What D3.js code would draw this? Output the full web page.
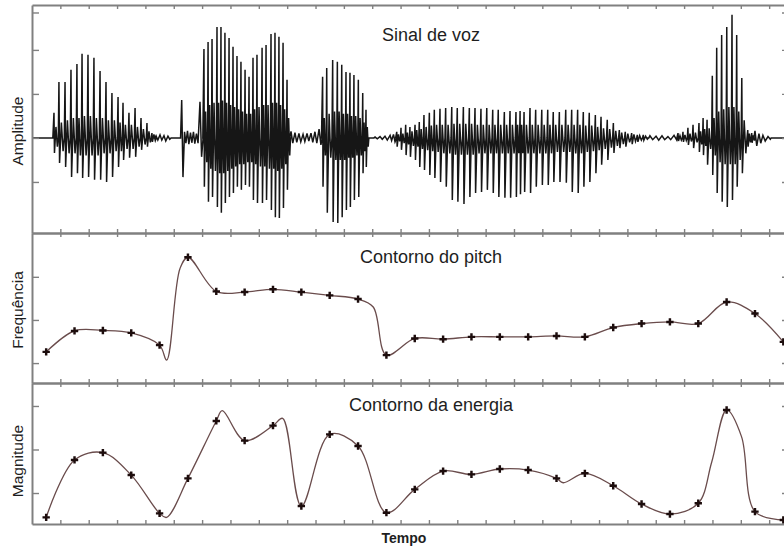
<!DOCTYPE html>
<html>
<head>
<meta charset="utf-8">
<script src="https://cdn.jsdelivr.net/npm/d3@7"></script>
<style>
  html, body { margin: 0; padding: 0; background: #fff; }
  svg { display: block; font-family: "Liberation Sans", Arial, sans-serif; }
</style>
</head>
<body>
<svg id="chart" width="784" height="548"></svg>
<script>
// ---------- data ----------
// time in ms; analysis frames every 20 ms
const frameTimes = [10, 30, 50, 70, 90, 110, 130, 150, 170, 190, 210, 230, 250, 270,
  290, 310, 330, 350, 370, 390, 410, 430, 450, 470, 490, 510, 530];
const timeTicks = [20, 40, 60, 80, 100, 120, 140, 160, 180, 200, 220, 240, 260, 280,
  300, 320, 340, 360, 380, 400, 420, 440, 460, 480, 500, 520];

// pitch contour (Hz), one value per frame
const pitchHz = [113.0, 137.3, 137.8, 135.0, 120.8, 222.7, 183.1, 182.3, 185.5, 182.3,
  178.5, 174.2, 109.2, 128.5, 127.7, 130.4, 130.4, 130.4, 131.5, 130.4, 141.2, 145.8,
  147.7, 145.8, 170.8, 157.4, 124.6];
// intermediate contour samples between frames [ms, Hz]
const pitchBetween = [[95.0, 103.5], [104.4, 209.7], [240.7, 165.0]];
const pitchTicks = [100, 150, 200];

// energy contour (normalised magnitude), one value per frame
const energyMag = [0.110, 0.440, 0.482, 0.353, 0.133, 0.334, 0.664, 0.551, 0.637, 0.175,
  0.587, 0.520, 0.137, 0.271, 0.376, 0.357, 0.388, 0.382, 0.334, 0.363, 0.292, 0.187,
  0.129, 0.191, 0.727, 0.143, 0.095];
const energyBetween = [[95.0, 0.110], [134.2, 0.723], [176.8, 0.679], [374.7, 0.309],
  [479.5, 0.428], [500.5, 0.574]];
const energyTicks = [0.25, 0.5, 0.75];

// speech waveform, voiced stretches: [ms, peak, trough, inner peak, inner trough]
const voiced1 = [
  [15.5, 0.57, -0.34, 0.25, -0.20], [19.0, 1.27, -0.57, 0.35, -0.30],
  [23.3, 1.27, -0.66, 0.40, -0.35], [27.5, 1.55, -0.89, 0.45, -0.35],
  [31.7, 1.68, -0.80, 0.45, -0.40], [35.3, 1.91, -0.91, 0.50, -0.40],
  [39.5, 1.89, -0.89, 0.50, -0.40], [43.7, 1.82, -0.95, 0.45, -0.40],
  [48.0, 1.52, -0.95, 0.45, -0.35], [52.2, 1.27, -1.00, 0.40, -0.35],
  [56.4, 1.02, -0.89, 0.40, -0.30], [60.7, 0.93, -0.66, 0.35, -0.30],
  [64.2, 0.80, -0.50, 0.30, -0.25], [68.4, 0.57, -0.45, 0.30, -0.25],
  [72.7, 0.68, -0.43, 0.25, -0.20], [76.9, 0.45, -0.27, 0.20, -0.15],
  [81.1, 0.34, -0.20, 0.15, -0.10], [84.6, 0.11, -0.09, 0.08, -0.06]
];
const voiced2 = [
  [121.3, 2.02, -1.11, 0.60, -0.55], [124.2, 2.18, -1.45, 0.75, -0.70],
  [127.0, 2.25, -1.34, 0.80, -0.75], [130.5, 2.52, -1.57, 0.80, -0.80],
  [133.3, 2.52, -1.70, 0.85, -0.80], [136.1, 2.39, -1.48, 0.80, -0.75],
  [139.0, 2.27, -1.34, 0.75, -0.70], [141.8, 2.07, -1.25, 0.70, -0.65],
  [144.6, 1.86, -1.11, 0.65, -0.60], [147.4, 1.73, -1.18, 0.60, -0.60],
  [150.3, 1.55, -1.07, 0.55, -0.55], [153.1, 1.39, -1.11, 0.55, -0.55],
  [155.9, 1.82, -1.41, 0.65, -0.60], [158.7, 1.89, -1.48, 0.70, -0.65],
  [162.3, 2.05, -1.48, 0.75, -0.65], [165.1, 2.11, -1.41, 0.75, -0.70],
  [168.6, 2.36, -1.64, 0.80, -0.70], [171.4, 2.39, -1.80, 0.80, -0.75],
  [174.2, 2.30, -1.82, 0.75, -0.70], [177.1, 2.16, -1.59, 0.65, -0.60],
  [179.9, 1.32, -1.18, 0.45, -0.40]
];
const voiced3 = [
  [205.0, 1.39, -1.11, 0.45, -0.40], [207.9, 1.59, -1.70, 0.55, -0.45],
  [212.1, 1.77, -1.91, 0.60, -0.50], [215.4, 1.73, -1.93, 0.60, -0.50],
  [218.5, 1.66, -1.80, 0.55, -0.50], [221.5, 1.50, -1.64, 0.55, -0.45],
  [224.3, 1.48, -1.57, 0.50, -0.45], [227.1, 1.43, -1.41, 0.50, -0.40],
  [230.2, 1.32, -1.34, 0.45, -0.40], [233.3, 1.02, -0.80, 0.35, -0.30],
  [235.6, 0.64, -0.66, 0.25, -0.20]
];
const voiced4 = [
  [257.3, 0.14, -0.20, 0.08, -0.08], [260.3, 0.23, -0.27, 0.10, -0.12],
  [263.6, 0.30, -0.39, 0.12, -0.15], [266.6, 0.25, -0.43, 0.15, -0.18],
  [270.2, 0.30, -0.50, 0.18, -0.20], [273.2, 0.36, -0.66, 0.20, -0.25],
  [276.5, 0.52, -0.73, 0.25, -0.28], [280.3, 0.57, -0.84, 0.28, -0.30],
  [283.8, 0.64, -0.91, 0.30, -0.32], [287.8, 0.66, -1.00, 0.30, -0.35],
  [291.8, 0.68, -1.11, 0.30, -0.35], [296.1, 0.70, -1.41, 0.32, -0.38],
  [300.0, 0.68, -1.45, 0.32, -0.38], [304.3, 0.70, -1.50, 0.32, -0.38],
  [308.5, 0.68, -1.34, 0.32, -0.38], [312.5, 0.68, -1.25, 0.30, -0.35],
  [316.7, 0.66, -1.23, 0.30, -0.35], [320.8, 0.68, -1.18, 0.30, -0.35],
  [325.0, 0.64, -1.25, 0.30, -0.35], [328.9, 0.64, -1.34, 0.30, -0.35],
  [333.2, 0.59, -1.36, 0.30, -0.35], [337.2, 0.61, -1.36, 0.30, -0.35],
  [341.4, 0.59, -1.34, 0.30, -0.35], [344.3, 0.61, -1.28, 0.30, -0.35],
  [347.1, 0.59, -1.23, 0.30, -0.35], [351.3, 0.68, -1.25, 0.30, -0.35],
  [355.3, 0.64, -1.11, 0.30, -0.35], [359.6, 0.64, -1.07, 0.30, -0.35],
  [363.8, 0.64, -1.07, 0.30, -0.35], [367.7, 0.59, -1.00, 0.30, -0.32],
  [372.0, 0.59, -1.00, 0.30, -0.32], [376.5, 0.64, -1.02, 0.30, -0.32],
  [380.7, 0.64, -1.23, 0.30, -0.35], [384.9, 0.64, -1.25, 0.30, -0.35],
  [388.9, 0.59, -1.11, 0.28, -0.32], [393.1, 0.57, -1.00, 0.28, -0.30],
  [397.4, 0.52, -0.80, 0.25, -0.28], [401.4, 0.48, -0.61, 0.22, -0.25],
  [405.8, 0.41, -0.50, 0.20, -0.22], [410.1, 0.34, -0.34, 0.16, -0.18],
  [414.3, 0.18, -0.23, 0.12, -0.14], [418.5, 0.14, -0.20, 0.10, -0.10],
  [423.0, 0.11, -0.14, 0.08, -0.08], [427.0, 0.07, -0.09, 0.05, -0.05],
  [431.2, 0.07, -0.05, 0.04, -0.03]
];
const voiced5 = [
  [455.7, 0.11, -0.07, 0.05, -0.05], [459.2, 0.14, -0.09, 0.07, -0.06],
  [462.7, 0.23, -0.16, 0.10, -0.08], [466.3, 0.30, -0.23, 0.12, -0.10],
  [470.5, 0.34, -0.32, 0.15, -0.15], [473.4, 0.45, -0.39, 0.20, -0.18],
  [476.2, 0.41, -0.61, 0.22, -0.25], [479.9, 1.41, -0.84, 0.45, -0.40],
  [483.0, 2.05, -1.25, 0.60, -0.55], [486.5, 2.34, -1.45, 0.65, -0.60],
  [490.1, 2.52, -1.57, 0.70, -0.60], [493.8, 2.80, -1.41, 0.70, -0.60],
  [497.1, 2.34, -1.11, 0.60, -0.50], [500.7, 1.36, -0.80, 0.40, -0.35],
  [504.9, 0.18, -0.20, 0.10, -0.10], [507.7, 0.11, -0.11, 0.06, -0.06]
];
// unvoiced / burst stretches: [ms, peak, trough]
const unvoiced1 = [[87.5, 0.05, -0.05], [90.3, 0.07, -0.05], [93.1, 0.05, -0.07], [95.9, 0.04, -0.03]];
const burst = [[105.6, 0.86, -0.89], [107.6, 0.14, -0.12], [109.7, 0.16, -0.14], [111.8, 0.12, -0.11],
  [113.9, 0.14, -0.13], [116.0, 0.10, -0.12], [118.5, 0.82, -0.43]];
const unvoiced2 = [[182.7, 0.15, -0.12], [185.5, 0.12, -0.10], [188.3, 0.10, -0.09], [191.2, 0.08, -0.08],
  [194.0, 0.10, -0.07], [196.8, 0.11, -0.10], [199.6, 0.14, -0.12], [202.5, 0.20, -0.16]];
const unvoiced3 = [[242.0, 0.02, -0.02], [245.5, 0.03, -0.03], [249.0, 0.04, -0.05], [252.6, 0.06, -0.06],
  [255.0, 0.08, -0.09]];
const unvoiced4 = [[435.9, 0.05, -0.04], [440.2, 0.04, -0.05], [444.4, 0.05, -0.04], [448.6, 0.03, -0.04],
  [452.9, 0.06, -0.05]];
const unvoiced5 = [[510.0, 0.16, -0.18], [512.8, 0.10, -0.12], [515.6, 0.06, -0.07], [519.2, 0.03, -0.03]];
const ampTicks = [-1, 0, 1, 2, 2.85];

// ---------- layout ----------
const svg = d3.select("#chart");
const plotLeft = 32, plotRight = 789;
const panels = [
  { top: 5, bottom: 233 },
  { top: 233, bottom: 383 },
  { top: 383, bottom: 524 }
];
const x = d3.scaleLinear().domain([0, 534]).range([plotLeft, plotRight]);
const yAmp = d3.scaleLinear().domain([-2.16, 3.02]).range([panels[0].bottom, panels[0].top]);
const yPitch = d3.scaleLinear().domain([76.9, 250.8]).range([panels[1].bottom, panels[1].top]);
const yEnergy = d3.scaleLinear().domain([0.072, 0.882]).range([panels[2].bottom, panels[2].top]);

const frameColor = "#808080";

function drawFrame(p, yScale, yTicks) {
  const g = svg.append("g");
  const styleAxis = sel => {
    sel.select(".domain").attr("stroke", frameColor).attr("stroke-width", 2);
    sel.selectAll(".tick line").attr("stroke", frameColor).attr("stroke-width", 1.4);
  };
  g.append("g").attr("transform", `translate(0,${p.top})`)
    .call(d3.axisTop(x).tickValues(timeTicks).tickSizeInner(-4).tickSizeOuter(0).tickFormat(""))
    .call(styleAxis);
  g.append("g").attr("transform", `translate(0,${p.bottom})`)
    .call(d3.axisBottom(x).tickValues(timeTicks).tickSizeInner(-4).tickSizeOuter(0).tickFormat(""))
    .call(styleAxis);
  g.append("g").attr("transform", `translate(${plotLeft},0)`)
    .call(d3.axisLeft(yScale).tickValues(yTicks).tickSizeInner(-7).tickSizeOuter(0).tickFormat(""))
    .call(styleAxis);
  g.append("g").attr("transform", `translate(${plotRight},0)`)
    .call(d3.axisRight(yScale).tickValues(yTicks).tickSizeInner(-7).tickSizeOuter(0).tickFormat(""))
    .call(styleAxis);
}

// clip paths per panel
const defs = svg.append("defs");
panels.forEach((p, i) => {
  defs.append("clipPath").attr("id", "clip" + i)
    .append("rect").attr("x", plotLeft).attr("y", p.top)
    .attr("width", plotRight - plotLeft).attr("height", p.bottom - p.top);
});

// ---------- waveform ----------
// each glottal period: sharp peak, trough, a smaller inner oscillation,
// then back to rest just before the next peak
function strokePoints(seq) {
  const pts = [];
  seq.forEach((p, i) => {
    const gap = i < seq.length - 1 ? seq[i + 1][0] - p[0] : (i > 0 ? p[0] - seq[i - 1][0] : 3);
    pts.push([p[0], p[1]]);
    if (p.length > 3) {
      pts.push([p[0] + 0.1 * gap, p[2]]);
      pts.push([p[0] + 0.4 * gap, p[3]]);
      pts.push([p[0] + 0.68 * gap, p[4]]);
      pts.push([p[0] + 0.88 * gap, 0]);
    } else {
      pts.push([p[0] + 0.45 * gap, p[2]]);
    }
  });
  const last = seq[seq.length - 1][0];
  return [[seq[0][0] - 0.8, 0], ...pts, [last + 2.2, 0]];
}
const stretches = [voiced1, unvoiced1, burst, voiced2, unvoiced2, voiced3, unvoiced3,
  voiced4, unvoiced4, voiced5, unvoiced5];
const wavePts = [[0, 0]];
stretches.forEach(s => wavePts.push(...strokePoints(s)));
wavePts.push([534, 0]);

const waveLine = d3.line().x(d => x(d[0])).y(d => yAmp(d[1]));
svg.append("path")
  .attr("clip-path", "url(#clip0)")
  .attr("d", waveLine(wavePts))
  .attr("fill", "none")
  .attr("stroke", "#161616")
  .attr("stroke-width", 1.5)
  .attr("stroke-linejoin", "miter");

// ---------- contours ----------
const contourLine = yScale => d3.line()
  .x(d => x(d[0])).y(d => yScale(d[1]))
  .curve(d3.curveCatmullRom.alpha(0.5));

function drawContour(values, between, yScale, clipId) {
  const pts = frameTimes.map((t, i) => [t, values[i]]).concat(between)
    .sort((a, b) => a[0] - b[0]);
  svg.append("path")
    .attr("clip-path", `url(#${clipId})`)
    .attr("d", contourLine(yScale)(pts))
    .attr("fill", "none")
    .attr("stroke", "#6a4c4c")
    .attr("stroke-width", 1.3);
  const sym = d3.symbol().type(d3.symbolCross).size(30);
  svg.append("g").selectAll("path")
    .data(frameTimes.map((t, i) => [t, values[i]]))
    .join("path")
    .attr("transform", d => `translate(${x(d[0])},${yScale(d[1])})`)
    .attr("d", sym)
    .attr("fill", "#1c0c0c");
}
drawContour(pitchHz, pitchBetween, yPitch, "clip1");
drawContour(energyMag, energyBetween, yEnergy, "clip2");

// ---------- frames ----------
drawFrame(panels[0], yAmp, ampTicks);
drawFrame(panels[1], yPitch, pitchTicks);
drawFrame(panels[2], yEnergy, energyTicks);

// ---------- text ----------
const titleX = 431;
const titles = [["Sinal de voz", 41], ["Contorno do pitch", 263], ["Contorno da energia", 411]];
svg.append("g").selectAll("text").data(titles).join("text")
  .attr("x", titleX).attr("y", d => d[1])
  .attr("text-anchor", "middle")
  .attr("font-size", 18)
  .attr("fill", "#1e1e1e")
  .text(d => d[0]);

const yLabels = [["Amplitude", 131], ["Frequência", 310], ["Magnitude", 461]];
svg.append("g").selectAll("text").data(yLabels).join("text")
  .attr("transform", d => `translate(23,${d[1]}) rotate(-90)`)
  .attr("text-anchor", "middle")
  .attr("font-size", 15.5)
  .attr("fill", "#1e1e1e")
  .text(d => d[0]);

svg.append("text")
  .attr("x", 404).attr("y", 543)
  .attr("text-anchor", "middle")
  .attr("font-size", 14)
  .attr("font-weight", "bold")
  .attr("fill", "#1e1e1e")
  .text("Tempo");
</script>
</body>
</html>
